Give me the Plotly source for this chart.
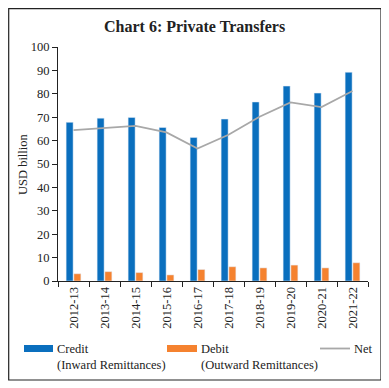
import plotly.graph_objects as go

years = ["2012-13", "2013-14", "2014-15", "2015-16", "2016-17",
         "2017-18", "2018-19", "2019-20", "2020-21", "2021-22"]
credit = [67.8, 69.6, 69.9, 65.6, 61.3, 69.2, 76.5, 83.3, 80.3, 89.2]
debit = [3.1, 4.0, 3.6, 2.6, 4.9, 6.1, 5.6, 6.8, 5.6, 7.8]
net = [64.5, 65.3, 66.3, 63.5, 56.6, 62.5, 70.2, 76.3, 74.3, 81.2]

BLUE = "#0A6FBE"
ORANGE = "#F5822F"
GRAY = "#A8A8A8"
FONT = "Liberation Serif"

OFF = 8  # browser body margin
W, H = 389 - OFF, 388 - OFF
PL, PR, PT, PB = 58, 368, 47, 281  # plot area in screen coords
L, T = PL - OFF, PT - OFF
R, B = W - (PR - OFF), H - (PB - OFF)
pw, ph = W - L - R, H - T - B

def px(sx):
    return (sx - OFF - L) / pw

def py(sy):
    return (H - B - (sy - OFF)) / ph

fig = go.Figure()
fig.add_trace(go.Bar(x=years, y=credit, name="Credit", marker_color=BLUE))
fig.add_trace(go.Bar(x=years, y=debit, name="Debit", marker_color=ORANGE))
fig.add_trace(go.Scatter(x=years, y=net, name="Net", mode="lines",
                         line=dict(color=GRAY, width=1.8)))

shapes = [
    dict(type="rect", xref="paper", yref="paper", x0=px(8.7), x1=px(381),
         y0=py(380), y1=py(8.7), line=dict(color="#222", width=1.2)),
    dict(type="rect", xref="paper", yref="paper", x0=px(24), x1=px(53),
         y0=py(352), y1=py(345), fillcolor=BLUE, line=dict(width=0)),
    dict(type="rect", xref="paper", yref="paper", x0=px(167), x1=px(197),
         y0=py(352), y1=py(345), fillcolor=ORANGE, line=dict(width=0)),
    dict(type="line", xref="paper", yref="paper", x0=px(320), x1=px(350),
         y0=py(348.5), y1=py(348.5), line=dict(color=GRAY, width=1.8)),
]

ann = [
    dict(text="<b>Chart 6: Private Transfers</b>", x=px(194), y=py(26),
         font=dict(size=16)),
    dict(text="Credit<br>(Inward Remittances)", x=px(55), y=py(340),
         xanchor="left", yanchor="top", align="left"),
    dict(text="Debit<br>(Outward Remittances)", x=px(199), y=py(340),
         xanchor="left", yanchor="top", align="left"),
    dict(text="Net", x=px(352), y=py(340), xanchor="left", yanchor="top"),
    dict(text="USD billion", x=px(23), y=py(164), textangle=-90,
         font=dict(size=12.5)),
]
for a in ann:
    a.setdefault("xref", "paper")
    a.setdefault("yref", "paper")
    a.setdefault("showarrow", False)
    a.setdefault("xanchor", "center")
    a.setdefault("yanchor", "middle")
    a.setdefault("font", dict(size=12.5))

fig.update_layout(
    width=W, height=H,
    margin=dict(l=L, r=R, t=T, b=B, autoexpand=False),
    paper_bgcolor="white", plot_bgcolor="white",
    font=dict(family=FONT, color="#222", size=12.5),
    showlegend=False,
    barmode="group", bargap=0.5, bargroupgap=0.1,
    shapes=shapes, annotations=ann,
)
fig.update_xaxes(showline=True, linecolor="#222", linewidth=1,
                 ticks="outside", tickson="boundaries", ticklen=5,
                 tickcolor="#222", tickangle=-90, showgrid=False,
                 tickfont=dict(size=12.5))
fig.update_yaxes(range=[0, 100], dtick=10, showline=True, linecolor="#222",
                 linewidth=1, ticks="outside", ticklen=5, tickcolor="#222",
                 showgrid=False, zeroline=False, tickfont=dict(size=12.5))

fig.write_html("out.html")
